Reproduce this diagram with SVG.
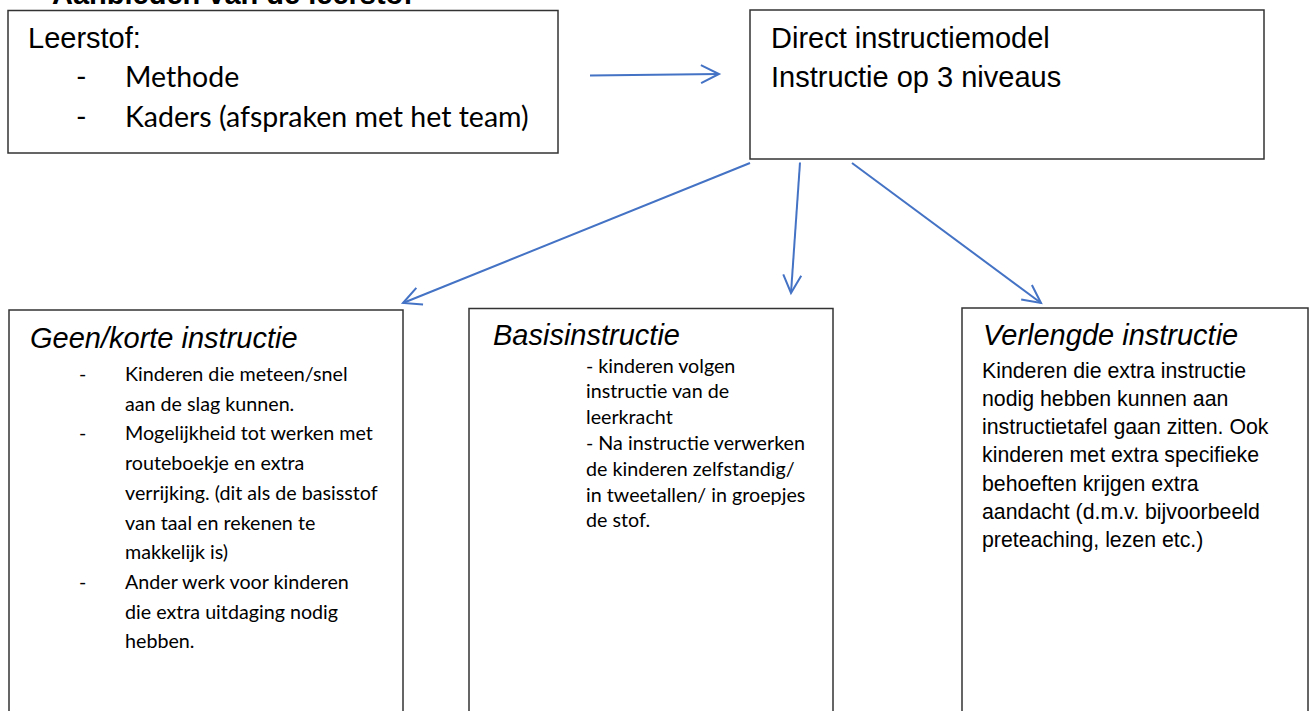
<svg xmlns="http://www.w3.org/2000/svg" width="1310" height="711" viewBox="0 0 1310 711">
<style>
.box{fill:#fff;stroke:#333;stroke-width:1.5}
.ar{font-family:"Liberation Sans",Arial,sans-serif;fill:#000}
.h{font-size:29px}
.hi{font-size:29px;font-style:italic}
.cal{font-family:Lato,"Liberation Sans",sans-serif;fill:#000}
.big{font-size:28.5px}
.sm{font-size:19.7px}
.arb{font-size:21.3px}
.con{stroke:#4472C4;stroke-width:2;fill:none;marker-end:url(#open)}
</style>
<defs>
<marker id="open" markerUnits="userSpaceOnUse" markerWidth="24" markerHeight="24" refX="20" refY="11" orient="auto">
<path d="M2,2 L20,11 L2,20" fill="none" stroke="#4472C4" stroke-width="2"/>
</marker>
</defs>
<rect width="1310" height="711" fill="#fff"/>
<text class="ar" x="52" y="4" font-size="29" font-weight="bold">Aanbieden van de leerstof</text>

<g id="leerstof">
<rect class="box" x="8" y="10.5" width="550" height="142.5"/>
<text class="ar h" x="28" y="48">Leerstof:</text>
<text class="cal big" x="76" y="87">-</text>
<text class="cal big" x="125" y="87">Methode</text>
<text class="cal big" x="76" y="127">-</text>
<text class="cal big" x="125" y="127">Kaders (afspraken met het team)</text>
</g>

<g id="direct">
<rect class="box" x="750" y="10" width="514" height="149"/>
<text class="ar h" x="771" y="48">Direct instructiemodel</text>
<text class="ar h" x="771" y="87">Instructie op 3 niveaus</text>
</g>

<g id="geen">
<rect class="box" x="9" y="310" width="394" height="420"/>
<text class="ar hi" x="30" y="348">Geen/korte instructie</text>
<g class="cal sm">
<text x="79" y="381">-</text>
<text x="125" y="381">Kinderen die meteen/snel</text>
<text x="125" y="410.7">aan de slag kunnen.</text>
<text x="79" y="440.4">-</text>
<text x="125" y="440.4">Mogelijkheid tot werken met</text>
<text x="125" y="470.1">routeboekje en extra</text>
<text x="125" y="499.8">verrijking. (dit als de basisstof</text>
<text x="125" y="529.5">van taal en rekenen te</text>
<text x="125" y="559.2">makkelijk is)</text>
<text x="79" y="588.9">-</text>
<text x="125" y="588.9">Ander werk voor kinderen</text>
<text x="125" y="618.6">die extra uitdaging nodig</text>
<text x="125" y="648.3">hebben.</text>
</g>
</g>

<g id="basis">
<rect class="box" x="469" y="308.5" width="364" height="420"/>
<text class="ar hi" x="493" y="345">Basisinstructie</text>
<g class="cal sm">
<text x="586" y="372.5">- kinderen volgen</text>
<text x="586" y="398.3">instructie van de</text>
<text x="586" y="424.1">leerkracht</text>
<text x="586" y="449.9">- Na instructie verwerken</text>
<text x="586" y="475.7">de kinderen zelfstandig/</text>
<text x="586" y="501.5">in tweetallen/ in groepjes</text>
<text x="586" y="527.3">de stof.</text>
</g>
</g>

<g id="verlengde">
<rect class="box" x="962" y="308" width="346" height="420"/>
<text class="ar hi" x="983" y="345">Verlengde instructie</text>
<g class="ar arb">
<text x="982" y="377.5">Kinderen die extra instructie</text>
<text x="982" y="405.8">nodig hebben kunnen aan</text>
<text x="982" y="434.1">instructietafel gaan zitten. Ook</text>
<text x="982" y="462.4">kinderen met extra specifieke</text>
<text x="982" y="490.7">behoeften krijgen extra</text>
<text x="982" y="519">aandacht (d.m.v. bijvoorbeeld</text>
<text x="982" y="547.3">preteaching, lezen etc.)</text>
</g>
</g>

<g id="connectors">
<line class="con" x1="590" y1="75.5" x2="719" y2="74"/>
<line class="con" x1="750" y1="163" x2="403" y2="303"/>
<line class="con" x1="800" y1="162.5" x2="791" y2="293"/>
<line class="con" x1="852" y1="163" x2="1041" y2="303"/>
</g>
</svg>
